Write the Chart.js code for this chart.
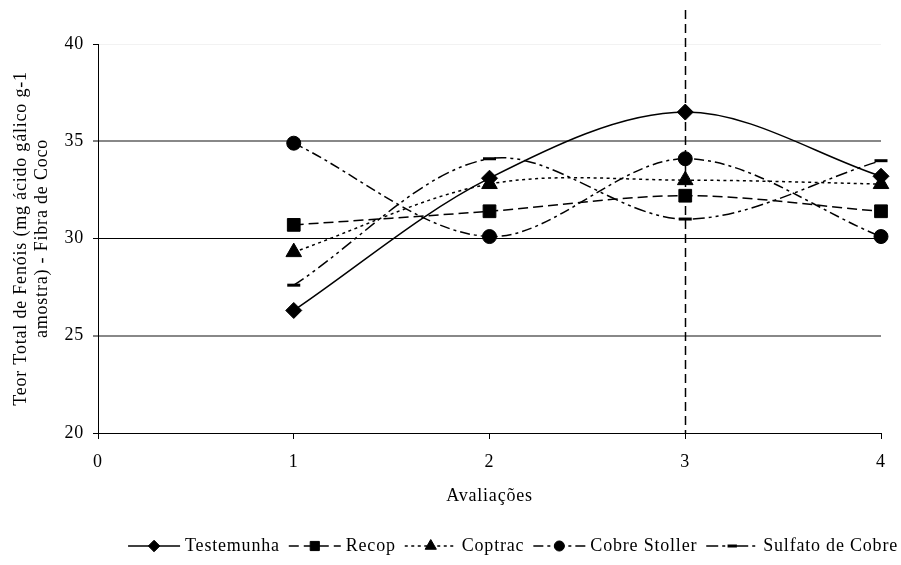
<!DOCTYPE html>
<html>
<head>
<meta charset="utf-8">
<style>
  html, body { margin: 0; padding: 0; background: #ffffff; }
  #wrap { width: 901px; height: 565px; }
</style>
<script src="https://cdn.jsdelivr.net/npm/chart.js@4.4.1/dist/chart.umd.min.js"></script>
</head>
<body>
<div id="wrap"><canvas id="chart" width="901" height="565"></canvas></div>
<script>
// Evaluations (x) and total phenol content per treatment (y)
const avaliacoes = [1, 2, 3, 4];
const testemunha = [26.3, 33.1, 36.5, 33.2];
const recop = [30.7, 31.4, 32.2, 31.4];
const coptrac = [29.3, 32.8, 33.0, 32.8];
const cobreStoller = [34.9, 30.1, 34.1, 30.1];
const sulfatoDeCobre = [27.6, 34.1, 31.0, 34.0];

const seriesNames = ['Testemunha', 'Recop', 'Coptrac', 'Cobre Stoller', 'Sulfato de Cobre'];
const xTicks = [0, 1, 2, 3, 4];
const yTicks = [20, 25, 30, 35, 40];
const markedEvaluation = 3;

const FONT = '"Liberation Serif", "Times New Roman", serif';
const FONT_SIZE = 18;
const SPACING = '0.8px';

const toPoints = vals => vals.map((v, i) => ({ x: avaliacoes[i], y: v }));

function series(label, values, style, radius, dash, borderWidth) {
  return {
    label,
    data: toPoints(values),
    borderColor: '#000',
    backgroundColor: '#000',
    borderWidth: 1.5,
    borderDash: dash,
    pointStyle: style,
    pointRadius: radius,
    pointBorderWidth: borderWidth,
    pointBackgroundColor: '#000',
    pointBorderColor: '#000',
    tension: 0.33,
    fill: false,
    clip: false
  };
}

const datasets = [
  series(seriesNames[0], testemunha, 'rectRot', 8, [], 1),
  series(seriesNames[1], recop, 'rect', 9, [10, 5], 1),
  series(seriesNames[2], coptrac, 'triangle', 9, [3, 3.5], 1),
  series(seriesNames[3], cobreStoller, 'circle', 7, [10, 4, 3, 4], 1),
  series(seriesNames[4], sulfatoDeCobre, 'line', 6.5, [12, 4, 3, 4, 3, 4], 3)
];

// Canvas letter spacing, applied to every text the chart draws
const spacingPlugin = {
  id: 'letterSpacing',
  beforeUpdate(chart) { chart.ctx.letterSpacing = SPACING; },
  beforeDraw(chart) { chart.ctx.letterSpacing = SPACING; }
};

// Dashed vertical reference line at the third evaluation
const markerLinePlugin = {
  id: 'markerLine',
  beforeDatasetsDraw(chart) {
    const { ctx, chartArea, scales } = chart;
    const x = Math.round(scales.x.getPixelForValue(markedEvaluation)) + 0.5;
    ctx.save();
    ctx.strokeStyle = '#000';
    ctx.lineWidth = 1.5;
    ctx.setLineDash([9, 5]);
    ctx.beginPath();
    ctx.moveTo(x, chartArea.top - 34);
    ctx.lineTo(x, chartArea.bottom);
    ctx.stroke();
    ctx.restore();
  }
};

// Legend row: line sample with centred marker, followed by the series name
const legendPlugin = {
  id: 'seriesLegend',
  afterDraw(chart) {
    const ctx = chart.ctx;
    const y = chart.chartArea.bottom + 113;
    const sampleW = 52, textGap = 5, itemGap = 9;
    ctx.save();
    ctx.font = FONT_SIZE + 'px ' + FONT;
    ctx.letterSpacing = SPACING;
    ctx.textBaseline = 'middle';
    ctx.textAlign = 'left';
    const items = chart.data.datasets.map(ds => ({ ds, w: ctx.measureText(ds.label).width }));
    const total = items.reduce((s, it) => s + sampleW + textGap + it.w, 0) + itemGap * (items.length - 1);
    let x = chart.width - 3 - total;
    items.forEach(({ ds, w }) => {
      ctx.strokeStyle = '#000';
      ctx.fillStyle = '#000';
      ctx.lineWidth = ds.borderWidth;
      ctx.setLineDash(ds.borderDash);
      ctx.beginPath();
      ctx.moveTo(x, y);
      ctx.lineTo(x + sampleW, y);
      ctx.stroke();
      ctx.setLineDash([]);
      ctx.lineWidth = ds.pointBorderWidth;
      Chart.helpers.drawPoint(ctx, {
        pointStyle: ds.pointStyle,
        radius: ds.pointRadius * 0.72,
        borderWidth: ds.pointBorderWidth,
        rotation: 0
      }, x + sampleW / 2, y);
      ctx.fillStyle = '#000';
      ctx.fillText(ds.label, x + sampleW + textGap, y);
      x += sampleW + textGap + w + itemGap;
    });
    ctx.restore();
  }
};

new Chart(document.getElementById('chart'), {
  type: 'line',
  data: { datasets },
  plugins: [spacingPlugin, markerLinePlugin, legendPlugin],
  options: {
    responsive: false,
    animation: false,
    devicePixelRatio: 1,
    events: [],
    layout: { padding: { top: 44, right: 20, left: 0, bottom: 0 } },
    plugins: {
      legend: { display: false },
      tooltip: { enabled: false },
      title: { display: false }
    },
    scales: {
      x: {
        type: 'linear',
        min: 0,
        max: 4,
        afterBuildTicks: s => { s.ticks = xTicks.map(v => ({ value: v })); },
        afterFit: s => { s.height = 132; },
        grid: {
          display: true,
          drawOnChartArea: false,
          drawTicks: true,
          tickLength: 6,
          tickColor: '#000',
          tickWidth: 1
        },
        border: { display: true, color: '#000', width: 1 },
        ticks: {
          color: '#000',
          padding: 12,
          font: { family: FONT, size: FONT_SIZE },
          maxRotation: 0
        },
        title: {
          display: true,
          text: 'Avaliações',
          color: '#000',
          font: { family: FONT, size: FONT_SIZE, lineHeight: 1.2 },
          padding: { top: 0, bottom: 58 }
        }
      },
      y: {
        type: 'linear',
        min: 20,
        max: 40,
        afterBuildTicks: s => { s.ticks = yTicks.map(v => ({ value: v })); },
        afterFit: s => { s.width = 98; },
        grid: {
          drawOnChartArea: true,
          drawTicks: true,
          tickLength: 5,
          tickColor: '#000',
          tickWidth: 1,
          color: c => {
            const v = c.tick && c.tick.value;
            if (v === 40) return 'rgba(0,0,0,0.05)';
            if (v === 25 || v === 35) return '#888888';
            return '#000000';
          },
          lineWidth: c => {
            const v = c.tick && c.tick.value;
            return (v === 25 || v === 35) ? 2 : 1;
          }
        },
        border: { display: true, color: '#000', width: 1 },
        ticks: {
          color: '#000',
          padding: 9,
          font: { family: FONT, size: FONT_SIZE }
        },
        title: {
          display: true,
          text: ['Teor Total de Fenóis (mg ácido gálico g-1', 'amostra) - Fibra de Coco'],
          color: '#000',
          font: { family: FONT, size: FONT_SIZE, lineHeight: 1.2 },
          padding: { top: 10, bottom: 0 }
        }
      }
    }
  }
});
</script>
</body>
</html>
